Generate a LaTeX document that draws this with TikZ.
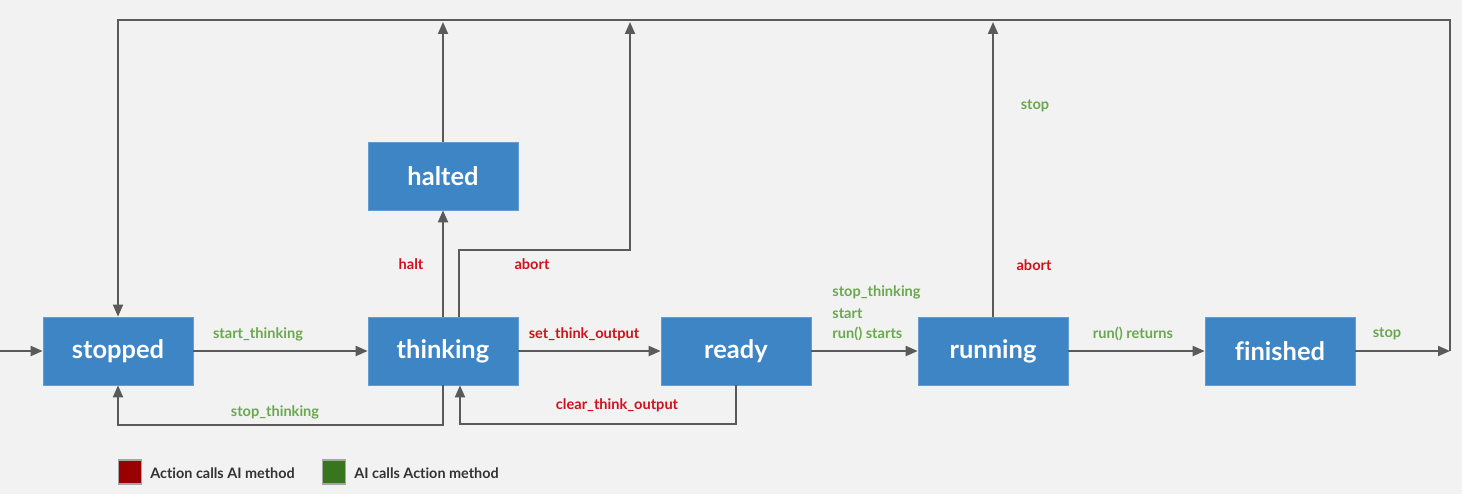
\documentclass[tikz,border=0pt]{standalone}
\usepackage{fontspec}
\setmainfont{Lato}[Ligatures={NoCommon}]
\usetikzlibrary{arrows.meta}
\definecolor{bg}{HTML}{F2F2F2}
\definecolor{boxc}{HTML}{3E85C6}
\definecolor{linec}{HTML}{5A5A5A}
\definecolor{gl}{HTML}{6AA84F}
\definecolor{rl}{HTML}{D0111B}
\definecolor{lred}{HTML}{990000}
\definecolor{lgreen}{HTML}{38761D}
\definecolor{ltext}{HTML}{333333}
\tikzset{
  box/.style={fill=boxc, draw=boxc!80!white, line width=0.4pt, minimum width=3cm, minimum height=1.36cm, inner sep=0pt,
    text=white, font=\fontsize{14.5}{16}\selectfont\bfseries},
  arr/.style={draw=linec, line width=1.1pt, -{Triangle[length=0.24cm,width=0.2cm]}},
  ln/.style={draw=linec, line width=1.1pt},
  glbl/.style={text=gl, font=\fontsize{8.3}{10}\selectfont\bfseries, inner sep=0pt},
  rlbl/.style={text=rl, font=\fontsize{8.3}{10}\selectfont\bfseries, inner sep=0pt},
  legsq/.style={draw=gray!70, line width=0.6pt, minimum width=0.46cm, minimum height=0.48cm, inner sep=0pt},
  legtxt/.style={text=ltext, font=\fontsize{8.2}{10}\selectfont\bfseries, inner sep=0pt, anchor=west}
}
\begin{document}
\begin{tikzpicture}[x=0.02cm, y=-0.02cm]
\fill[bg] (0,0) rectangle (1462,494);
\useasboundingbox (0,0) rectangle (1462,494);
% nodes
\node[box] (stopped) at (118,351) {stopped};
\node[box] (thinking) at (443,351) {thinking};
\node[box] (halted) at (443,176) {halted};
\node[box] (ready) at (736,351) {ready};
\node[box] (running) at (993,351) {running};
\node[box] (finished) at (1280,351) {finished};
% helper coordinates
\coordinate (in) at (0,351);
\coordinate (top) at (0,20);
\coordinate (tr) at (1450,351);
\coordinate (trt) at (1450,20);
\coordinate (ab) at (630,250);
\coordinate (lowA) at (0,425);
\coordinate (lowB) at (0,424);
% connectors
\draw[arr] (in) -- (stopped);
\draw[arr] (stopped) -- (thinking);
\draw[arr] (thinking) -- (ready);
\draw[arr] (ready) -- (running);
\draw[arr] (running) -- (finished);
\draw[arr] (finished) -- (tr);
\draw[arr] (tr) -- (trt) -- (stopped.north |- top) -- (stopped.north);
\draw[arr] (running.north) -- ([yshift=-0.04cm]running.north |- top);
\draw[arr] (halted.north) -- ([yshift=-0.04cm]halted.north |- top);
\draw[arr] (thinking.north) -- (halted.south);
\draw[arr] ([xshift=0.32cm]thinking.north) |- (ab) -- ([yshift=-0.04cm]ab |- top);
\draw[arr] (thinking.south) -- (thinking.south |- lowA) -| (stopped.south);
\draw[arr] (ready.south) -- (ready.south |- lowB) -| ([xshift=0.34cm]thinking.south);
% labels
\node[glbl] (l1) at (258,334) {start\_thinking};
\node[glbl] (l2) at (275,412) {stop\_thinking};
\node[rlbl] (l3) at (584,334) {set\_think\_output};
\node[rlbl] (l4) at (617,405) {clear\_think\_output};
\node[glbl, anchor=west] (l5) at (832,292) {stop\_thinking};
\node[glbl, anchor=west] (l6) at (832,314) {start};
\node[glbl, anchor=west] (l7) at (832,334) {run() starts};
\node[glbl] (l8) at (1133,334) {run() returns};
\node[glbl] (l9) at (1387,334) {stop};
\node[rlbl] (l10) at (411,264) {halt};
\node[rlbl] (l11) at (532,264) {abort};
\node[glbl] (l12) at (1035,106) {stop};
\node[rlbl] (l13) at (1034,265) {abort};
% legend
\node[legsq, fill=lred] (sq1) at (130,472) {};
\node[legtxt] (t1) at (150,473) {Action calls AI method};
\node[legsq, fill=lgreen] (sq2) at (334,472) {};
\node[legtxt] (t2) at (354,473) {AI calls Action method};
\end{tikzpicture}
\end{document}
